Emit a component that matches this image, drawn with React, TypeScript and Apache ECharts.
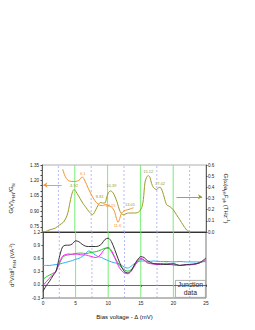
import React, { useEffect, useRef } from "react";
import * as echarts from "echarts";

// Top panel: measured conductance (left axis)
const orangeX = [3.15, 3.4, 3.7, 4.0, 4.5, 5.0, 5.4, 5.8, 6.1, 6.4, 6.8, 7.3, 7.8, 8.3, 8.8, 9.2, 9.6, 10.0, 10.4, 10.8, 11.1, 11.35, 11.6, 11.85, 12.1, 12.5, 13.0, 13.5, 13.95];
const orangeY = [1.31, 1.26, 1.22, 1.2, 1.19, 1.19, 1.195, 1.21, 1.235, 1.215, 1.16, 1.09, 1.03, 0.985, 0.96, 0.955, 0.965, 0.96, 0.95, 0.93, 0.89, 0.83, 0.795, 0.83, 0.88, 0.905, 0.915, 0.925, 0.935];

// Top panel: phonon spectral function (right axis)
const oliveX = [0, 0.5, 1.2, 2.0, 2.7, 3.3, 3.8, 4.05, 4.35, 4.65, 4.9, 5.2, 5.5, 5.8, 6.25, 6.7, 7.2, 7.7, 8.2, 8.6, 8.9, 9.2, 9.6, 9.85, 10.1, 10.45, 10.85, 11.4, 11.9, 12.4, 13.2, 13.9, 14.7, 15.2, 15.45, 15.7, 15.95, 16.2, 16.45, 16.7, 17.0, 17.5, 17.8, 18.0, 18.35, 18.65, 19.0, 19.5, 20.0, 20.5, 21.0, 21.5, 22.05, 22.6];
const oliveY = [0.0, 0.003, 0.02, 0.034, 0.064, 0.09, 0.145, 0.2, 0.29, 0.36, 0.38, 0.36, 0.33, 0.3, 0.255, 0.22, 0.18, 0.155, 0.2, 0.245, 0.264, 0.26, 0.26, 0.306, 0.35, 0.368, 0.35, 0.275, 0.185, 0.155, 0.17, 0.17, 0.177, 0.218, 0.29, 0.445, 0.49, 0.505, 0.49, 0.436, 0.397, 0.38, 0.4, 0.4, 0.366, 0.306, 0.245, 0.227, 0.2, 0.155, 0.11, 0.064, 0.018, 0.0];

// Bottom panel: d2V/dI2 junction data
const bx = [0, 0.5, 1, 1.5, 2, 2.5, 3, 3.5, 4, 4.5, 5, 5.5, 6, 6.5, 7, 7.5, 8, 8.5, 9, 9.5, 10, 10.5, 11, 11.5, 12, 12.5, 13, 13.5, 14, 14.5, 15, 15.5, 16, 17, 18, 19, 20, 21, 22, 23, 24, 25];
const blackY = [-0.15, -0.02, 0.08, 0.2, 0.31, 0.62, 0.86, 0.9, 0.9, 0.93, 1.0, 0.98, 0.92, 0.88, 0.87, 0.87, 0.87, 0.88, 0.93, 1.03, 1.06, 0.98, 0.8, 0.6, 0.42, 0.3, 0.27, 0.32, 0.45, 0.57, 0.64, 0.62, 0.55, 0.48, 0.47, 0.46, 0.48, 0.44, 0.46, 0.47, 0.5, 0.61];
const magentaY = [-0.02, 0.07, 0.15, 0.23, 0.31, 0.5, 0.65, 0.69, 0.7, 0.69, 0.7, 0.69, 0.68, 0.68, 0.66, 0.64, 0.62, 0.64, 0.72, 0.82, 0.85, 0.78, 0.62, 0.45, 0.33, 0.27, 0.25, 0.3, 0.42, 0.55, 0.6, 0.57, 0.5, 0.47, 0.46, 0.47, 0.45, 0.44, 0.46, 0.46, 0.5, 0.58];
const greenY = [0.12, 0.18, 0.22, 0.26, 0.31, 0.48, 0.62, 0.67, 0.68, 0.7, 0.71, 0.72, 0.72, 0.71, 0.72, 0.74, 0.75, 0.77, 0.8, 0.83, 0.83, 0.75, 0.62, 0.5, 0.4, 0.34, 0.31, 0.34, 0.42, 0.52, 0.58, 0.56, 0.5, 0.48, 0.48, 0.49, 0.46, 0.44, 0.45, 0.46, 0.5, 0.55];
const cyanY = [0.44, 0.44, 0.44, 0.45, 0.46, 0.47, 0.49, 0.51, 0.53, 0.55, 0.58, 0.6, 0.64, 0.7, 0.77, 0.74, 0.68, 0.64, 0.62, 0.58, 0.55, 0.52, 0.5, 0.48, 0.45, 0.4, 0.38, 0.42, 0.48, 0.52, 0.54, 0.54, 0.53, 0.54, 0.53, 0.53, 0.52, 0.53, 0.52, 0.52, 0.52, 0.53];

// Annotations
const orangeLabels = [
  { name: "6.1", x: 6.2, y: 1.27 },
  { name: "10.15", x: 10.44, y: 0.953 },
  { name: "11.6", x: 11.5, y: 0.76 },
];
const oliveLabels = [
  { name: "4.92", x: 4.88, y: 0.418 },
  { name: "8.81", x: 8.8, y: 0.315 },
  { name: "10.39", x: 10.6, y: 0.42 },
  { name: "13.01", x: 13.4, y: 0.245 },
  { name: "15.12", x: 16.2, y: 0.545 },
  { name: "17.02", x: 18.0, y: 0.43 },
];
const orangeArrow = { from: [3.0, 1.156], to: [0.2, 1.156] };
const oliveArrow = { from: [20.5, 0.315], to: [24.4, 0.315] };

const greenLines = [5, 10, 15, 20];
const blueLines = [2.5, 7.5, 12.5, 17.5, 22.5];
const topRange = [0.7, 1.35];
const bottomRange = [-0.3, 1.2];

const FONT = "Liberation Sans, Arial, sans-serif";
const zip = (xs: number[], ys: number[]) => xs.map((x, i) => [x, ys[i]]);

const vLines = (xi: number, yi: number, vals: number[], range: number[], color: string, type: any, width: number) =>
  vals.map((v) => ({
    type: "line", xAxisIndex: xi, yAxisIndex: yi, silent: true, showSymbol: false, symbol: "none",
    data: [[v, range[0]], [v, range[1]]],
    lineStyle: { color, type, width },
    z: 1,
  }));

const labelPoints = (arr: { name: string; x: number; y: number }[], color: string) => ({
  symbol: "circle",
  symbolSize: 1,
  itemStyle: { color: "transparent" },
  label: { show: true, position: "inside", formatter: (p: any) => p.name, color, fontSize: 4, fontFamily: FONT },
  data: arr.map((a) => ({ name: a.name, coord: [a.x, a.y] })),
});

const arrowLine = (a: { from: number[]; to: number[] }, color: string) => ({
  silent: true,
  symbol: ["none", "arrow"],
  symbolSize: 4,
  label: { show: false },
  lineStyle: { color, width: 0.9, type: "solid" },
  data: [[{ coord: a.from }, { coord: a.to }]],
});

const axisColor = "#444";
const sub = { fontSize: 4.2, verticalAlign: "bottom", fontFamily: FONT, color: "#222", lineHeight: 8 };
const sup = { fontSize: 4.2, verticalAlign: "top", fontFamily: FONT, color: "#222", lineHeight: 8 };
const main = { fontSize: 6, fontFamily: FONT, color: "#222", lineHeight: 8 };

const BLUE = "#a3a9f4";
const GREEN = "#66ee66";

const option: any = {
  animation: false,
  grid: [
    { left: 42, top: 165, width: 164, height: 67, show: true, borderColor: "#999", borderWidth: 0.8 },
    { left: 42, top: 232, width: 164, height: 66, show: true, borderColor: "#555", borderWidth: 0.8 },
  ],
  xAxis: [
    {
      type: "value", gridIndex: 0, min: 0, max: 25, interval: 5,
      axisLine: { show: true, lineStyle: { color: "#333", width: 1 } },
      axisTick: { show: false }, axisLabel: { show: false }, splitLine: { show: false },
    },
    {
      type: "value", gridIndex: 1, min: 0, max: 25, interval: 5,
      axisLine: { show: true, lineStyle: { color: axisColor, width: 0.8 } },
      axisTick: { show: true, length: 2, lineStyle: { color: axisColor } },
      axisLabel: { fontSize: 4.8, color: "#222", fontFamily: FONT, margin: 3 },
      splitLine: { show: false },
      name: "Bias voltage - \u0394 (mV)", nameLocation: "middle", nameGap: 16,
      nameTextStyle: { fontSize: 6, color: "#111", fontFamily: FONT },
    },
  ],
  yAxis: [
    {
      type: "value", gridIndex: 0, min: topRange[0], max: topRange[1], interval: 0.05,
      axisLine: { show: true, lineStyle: { color: axisColor, width: 0.8 } },
      axisTick: { show: true, length: 1.5, lineStyle: { color: axisColor } },
      axisLabel: {
        fontSize: 4.6, color: "#222", fontFamily: FONT, margin: 3,
        formatter: (v: number) => {
          const k = Math.round(v * 100);
          return k >= 75 && k % 15 === 0 ? (k / 100).toFixed(2) : "";
        },
      },
      splitLine: { show: false },
      name: "{a|G(V)}{s|PhN}{a|/G}{s|N}",
      nameLocation: "middle", nameRotate: 90, nameGap: 27,
      nameTextStyle: { rich: { a: main, s: sub } },
    },
    {
      type: "value", gridIndex: 0, min: 0, max: 0.6, interval: 0.1, position: "right",
      axisLine: { show: true, lineStyle: { color: axisColor, width: 0.8 } },
      axisTick: { show: true, length: 1.5, lineStyle: { color: axisColor } },
      axisLabel: { fontSize: 4.6, color: "#222", fontFamily: FONT, margin: 2, formatter: (v: number) => v.toFixed(1) },
      splitLine: { show: false },
      name: "{a|G(\u03c9)a}{s|ph}{a|F}{s|ph}{a| (THz}{p|-1}{a|)}",
      nameLocation: "middle", nameRotate: -90, nameGap: 16, nameMoveOverlap: false,
      nameTextStyle: { rich: { a: main, s: sub, p: sup } },
    },
    {
      type: "value", gridIndex: 1, min: bottomRange[0], max: bottomRange[1], interval: 0.3,
      axisLine: { show: true, lineStyle: { color: axisColor, width: 0.8 } },
      axisTick: { show: true, length: 1.5, lineStyle: { color: axisColor } },
      axisLabel: { fontSize: 4.6, color: "#222", fontFamily: FONT, margin: 3, formatter: (v: number) => v.toFixed(1) },
      splitLine: { show: false },
      name: "{a|d}{p|2}{a|V/dI}{p|2}{s|PhN}{a| (VA}{p|-2}{a|)}",
      nameLocation: "middle", nameRotate: 90, nameGap: 27,
      nameTextStyle: { rich: { a: main, s: sub, p: sup } },
    },
  ],
  series: [
    ...vLines(0, 0, blueLines, topRange, BLUE, [2, 2], 0.8),
    ...vLines(0, 0, greenLines, topRange, GREEN, "solid", 0.9),
    ...vLines(1, 2, blueLines, bottomRange, BLUE, [2, 2], 0.8),
    ...vLines(1, 2, greenLines, bottomRange, GREEN, "solid", 0.9),
    {
      name: "DOS", type: "line", xAxisIndex: 0, yAxisIndex: 1, data: zip(oliveX, oliveY),
      smooth: 0.3, showSymbol: false, lineStyle: { color: "#9c9a2c", width: 1 }, z: 3,
      markPoint: labelPoints(oliveLabels, "#9c9a2c"),
      markLine: arrowLine(oliveArrow, "#9c9a2c"),
    },
    {
      name: "G(V)", type: "line", xAxisIndex: 0, yAxisIndex: 0, data: zip(orangeX, orangeY),
      smooth: 0.3, showSymbol: false, lineStyle: { color: "#f7932a", width: 1 }, z: 3,
      markPoint: labelPoints(orangeLabels, "#f7932a"),
      markLine: arrowLine(orangeArrow, "#f7932a"),
    },
    { type: "line", xAxisIndex: 1, yAxisIndex: 2, data: zip(bx, cyanY), smooth: 0.3, showSymbol: false, z: 3, lineStyle: { color: "#2fb0f5", width: 1 } },
    { type: "line", xAxisIndex: 1, yAxisIndex: 2, data: zip(bx, greenY), smooth: 0.3, showSymbol: false, z: 3, lineStyle: { color: "#22cc22", width: 1 } },
    { type: "line", xAxisIndex: 1, yAxisIndex: 2, data: zip(bx, magentaY), smooth: 0.3, showSymbol: false, z: 3, lineStyle: { color: "#ff22ff", width: 1 } },
    { type: "line", xAxisIndex: 1, yAxisIndex: 2, data: zip(bx, blackY), smooth: 0.3, showSymbol: false, z: 3, lineStyle: { color: "#333333", width: 1 } },
  ],
  graphic: [
    {
      type: "group", left: 175, top: 280,
      children: [
        { type: "rect", shape: { x: 0, y: 0, width: 30, height: 17 }, style: { fill: "#fff", stroke: "#999", lineWidth: 0.8 } },
        { type: "text", x: 15, y: 8.5, style: { text: "Junction\ndata", fontSize: 6.8, fontFamily: FONT, fill: "#222", align: "center", verticalAlign: "middle", lineHeight: 8 } },
      ],
    },
  ],
};

export default function App() {
  const ref = useRef<HTMLDivElement>(null);
  useEffect(() => {
    const chart = echarts.init(ref.current as HTMLDivElement, null, { renderer: "svg" });
    chart.setOption(option);
    return () => chart.dispose();
  }, []);
  return <div ref={ref} style={{ position: "absolute", left: 0, top: 0, width: 255, height: 330 }} />;
}
